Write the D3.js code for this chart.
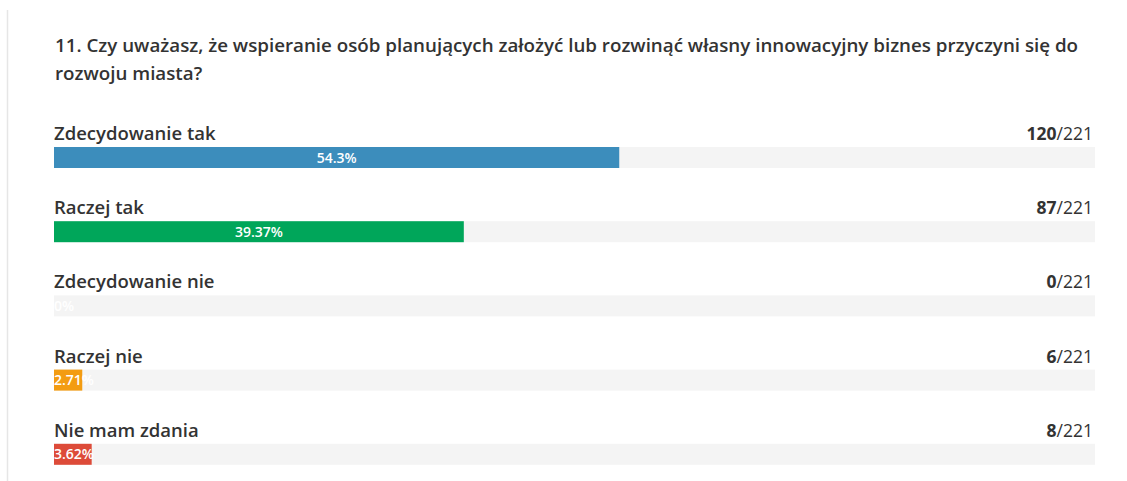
<!DOCTYPE html>
<html><head><meta charset="utf-8">
<script src="https://cdnjs.cloudflare.com/ajax/libs/d3/7.8.5/d3.min.js"></script>
<style>body{margin:0;background:#fff;}svg{display:block;font-family:"Open Sans",sans-serif;}</style>
</head><body>
<script>
const title = ["11. Czy uważasz, że wspieranie osób planujących założyć lub rozwinąć własny innowacyjny biznes przyczyni się do", "rozwoju miasta?"];
const categories = ["Zdecydowanie tak", "Raczej tak", "Zdecydowanie nie", "Raczej nie", "Nie mam zdania"];
const counts = [120, 87, 0, 6, 8];
const percents = ["54.3%", "39.37%", "0%", "2.71%", "3.62%"];
const total = 221;
const colors = ["#3c8dbc", "#00a65a", "#00c0ef", "#f39c12", "#dd4b39"];

const W = 1127, H = 481;
const svg = d3.select("body").append("svg").attr("width", W).attr("height", H);
svg.append("line").attr("x1", 7.5).attr("x2", 7.5).attr("y1", 10).attr("y2", H).attr("stroke", "#e6e6e6").attr("stroke-width", 1.5);

svg.selectAll("text.title").data(title).enter().append("text")
  .attr("x", 55).attr("y", (d, i) => 52 + i * 28)
  .attr("font-size", 18.75).attr("font-weight", 600).attr("fill", "#333").text(d => d);

const x = d3.scaleLinear().domain([0, total]).range([54, 1095]);
const y = d3.scaleBand().domain(categories).range([123, 494]).paddingInner(0);
const barH = 21;

const g = svg.selectAll("g.row").data(categories).enter().append("g").attr("class", "row");
g.append("text").attr("x", 54).attr("y", d => y(d) + 17)
  .attr("font-size", 18.5).attr("font-weight", 600).attr("fill", "#333").text(d => d);
const cnt = g.append("text").attr("x", 1093).attr("y", (d) => y(d) + 17).attr("text-anchor", "end")
  .attr("font-size", 17.5).attr("fill", "#333");
cnt.append("tspan").attr("font-weight", 700).text((d, i) => counts[i]);
cnt.append("tspan").text("/" + total);
g.append("rect").attr("x", x(0)).attr("y", d => y(d) + 24).attr("width", x(total) - x(0)).attr("height", barH).attr("fill", "#f4f4f4");
g.append("rect").attr("x", x(0)).attr("y", d => y(d) + 24).attr("width", (d, i) => x(counts[i]) - x(0)).attr("height", barH).attr("fill", (d, i) => colors[i]);
g.append("text").attr("y", d => y(d) + 24 + 15.5)
  .attr("font-size", 14).attr("font-weight", 600).attr("fill", "#fff")
  .text((d, i) => percents[i])
  .each(function(d, i) {
    const tw = this.getComputedTextLength();
    const bw = x(counts[i]) - x(0);
    const cx = x(0) + bw / 2;
    d3.select(this).attr("x", bw > tw ? cx : x(0)).attr("text-anchor", bw > tw ? "middle" : "start");
  });
</script>
</body></html>
